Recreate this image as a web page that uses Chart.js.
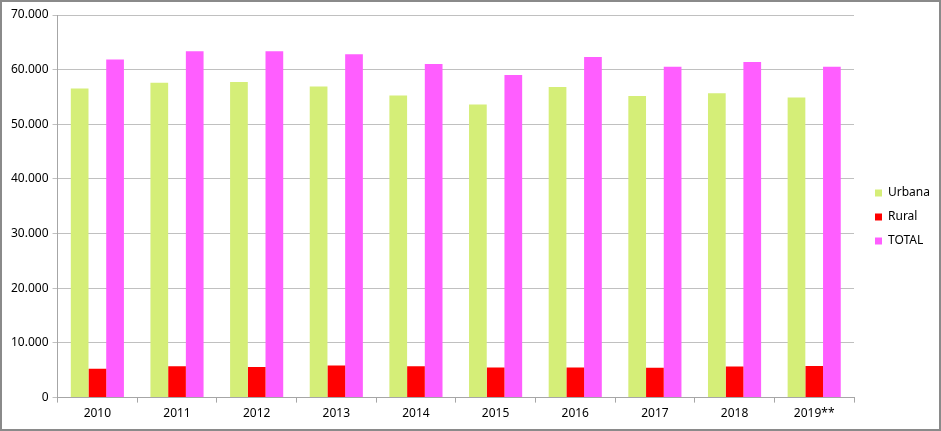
<!DOCTYPE html>
<html>
<head>
<meta charset="utf-8">
<script src="https://cdn.jsdelivr.net/npm/chart.js@4.4.1/dist/chart.umd.min.js"></script>
<style>
    html, body { margin: 0; padding: 0; background: #fff; }
    .frame {
        width: 941px;
        height: 431px;
        box-sizing: border-box;
        border: 2px solid #8a8a8a;
        background: #fff;
    }
    .frame canvas { display: block; }
</style>
</head>
<body>
<div class="frame">
    <canvas id="chart" width="937" height="427"></canvas>
</div>
<script>
// data
const years = ['2010', '2011', '2012', '2013', '2014', '2015', '2016', '2017', '2018', '2019**'];
const urbana = [56570, 57600, 57720, 56930, 55280, 53630, 56810, 55160, 55700, 54910];
const rural = [5260, 5740, 5620, 5860, 5740, 5500, 5500, 5440, 5680, 5800];
const total = [61880, 63350, 63350, 62800, 61020, 59000, 62300, 60530, 61390, 60530];
const yTicks = [0, 10000, 20000, 30000, 40000, 50000, 60000, 70000];

const fontFamily = '"Noto Sans", "Open Sans", sans-serif';

// 70000 -> "70.000"
function formatThousands(v) {
    return String(v).replace(/\B(?=(\d{3})+(?!\d))/g, '.');
}

// nudge the legend right/up so it sits where the original one does
const legendShift = {
    id: 'legendShift',
    afterLayout(chart) {
        if (chart.legend) {
            chart.legend.left += 9;
            chart.legend.right += 9;
            chart.legend.top -= 3;
            chart.legend.bottom -= 3;
        }
    }
};

const ctx = document.getElementById('chart');

new Chart(ctx, {
    type: 'bar',
    data: {
        labels: years,
        datasets: [
            { label: 'Urbana', data: urbana, backgroundColor: '#d5ee78' },
            { label: 'Rural', data: rural, backgroundColor: '#ff0000' },
            { label: 'TOTAL', data: total, backgroundColor: '#ff5eff' }
        ]
    },
    plugins: [legendShift],
    options: {
        responsive: false,
        animation: false,
        layout: {
            padding: { left: 5, top: 13, right: 8, bottom: 4 }
        },
        datasets: {
            bar: {
                categoryPercentage: 0.667,
                barPercentage: 1.0
            }
        },
        scales: {
            x: {
                grid: {
                    drawOnChartArea: false,
                    drawTicks: true,
                    tickLength: 5,
                    color: '#a6a6a6'
                },
                border: { color: '#a6a6a6' },
                ticks: {
                    color: '#000',
                    padding: 4,
                    font: { family: fontFamily, size: 12 }
                }
            },
            y: {
                min: 0,
                max: 70000,
                afterBuildTicks: (axis) => {
                    axis.ticks = yTicks.map(v => ({ value: v }));
                },
                grid: {
                    color: '#c0c0c0',
                    tickLength: 5,
                    lineWidth: 1
                },
                border: { color: '#a6a6a6' },
                ticks: {
                    color: '#000',
                    padding: 4,
                    font: { family: fontFamily, size: 12 },
                    callback: (v) => formatThousands(v)
                }
            }
        },
        plugins: {
            legend: {
                position: 'right',
                align: 'center',
                labels: {
                    boxWidth: 7,
                    boxHeight: 7,
                    padding: 12,
                    color: '#000',
                    font: { family: fontFamily, size: 12 }
                }
            },
            tooltip: { enabled: false }
        }
    }
});
</script>
</body>
</html>
